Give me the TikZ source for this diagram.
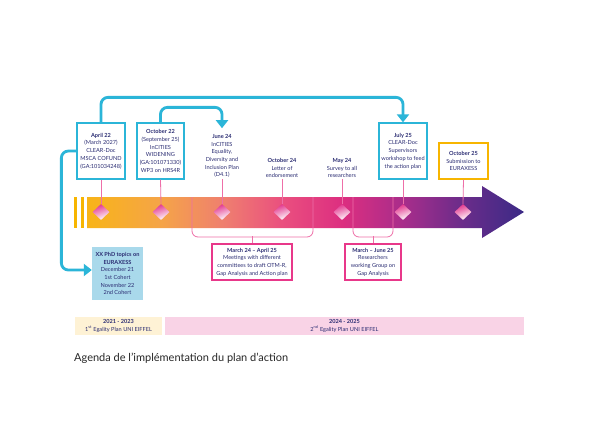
\documentclass[tikz,border=0pt]{standalone}
\usepackage{fontspec}
\setmainfont{Lato}
\usetikzlibrary{arrows.meta,shapes.geometric,calc}
\definecolor{navy}{HTML}{2A2C72}
\definecolor{cyanc}{HTML}{2BB5D8}
\definecolor{pinkb}{HTML}{E8388A}
\definecolor{pinkl}{HTML}{EE6FA8}
\definecolor{yellowc}{HTML}{F7B500}
\definecolor{lblue}{HTML}{A9D9EB}
\definecolor{barY}{HTML}{FEF2D5}
\definecolor{barP}{HTML}{F9D3E6}
\definecolor{diapink}{HTML}{E2338C}
\definecolor{tlA}{HTML}{F8B418}
\definecolor{tlB}{HTML}{F5A448}
\definecolor{tlC}{HTML}{EF7F6F}
\definecolor{tlD}{HTML}{EA4F7F}
\definecolor{tlE}{HTML}{DC2E80}
\definecolor{tlF}{HTML}{A82D8B}
\definecolor{tlG}{HTML}{6A2C8A}
\definecolor{tlH}{HTML}{3B2A86}
\pgfdeclarehorizontalshading{timeline}{100bp}{color(0bp)=(tlA); color(25bp)=(tlA); color(33.5bp)=(tlB); color(40.6bp)=(tlC); color(47.4bp)=(tlD); color(54.3bp)=(tlE); color(61.2bp)=(tlF); color(68bp)=(tlG); color(75bp)=(tlH); color(100bp)=(tlH)}
\begin{document}
\begin{tikzpicture}[x=1pt,y=-1pt,
  font=\fontsize{5.6}{7.7}\selectfont,
  cbox/.style={draw=cyanc, line width=1.3pt, fill=white, text=navy, align=center, inner sep=0.5pt},
  pbox/.style={draw=pinkb, line width=1.2pt, fill=white, text=navy, align=center, inner sep=0.5pt},
  plain/.style={text=navy, align=center, inner sep=1pt},
  pinkline/.style={draw=pinkl, line width=0.8pt},
  cyanline/.style={draw=cyanc, line width=2.8pt, rounded corners=7pt, -{Triangle[width=12pt,length=8pt]}},
  diam/.style={shape=diamond, minimum width=17pt, minimum height=16pt, inner sep=0pt, top color=diapink, bottom color=white, shading angle=20},
  bar/.style={text=navy, align=center, inner sep=0pt, font=\fontsize{5.6}{7.4}\selectfont},
]
\useasboundingbox (0,0) rectangle (599,424);
\fill[white] (0,0) rectangle (599,424);

% timeline band
\fill[yellowc] (74,197) rectangle (77,228);
\fill[yellowc] (81,197) rectangle (84,228);
\shade[shading=timeline] (87,197) -- (482,197) -- (482,186) -- (524,212) -- (482,238) -- (482,228) -- (87,228) -- cycle;

% brackets
\draw[pinkline, rounded corners=6pt] (192,197) -- (192,237) -- (313,237) -- (313,197);
\draw[pinkline, rounded corners=6pt] (353,197) -- (353,237) -- (393,237) -- (393,197);

% diamonds
\node[diam] (d1) at (101,212) {};
\node[diam] (d2) at (161,212) {};
\node[diam] (d3) at (222,212) {};
\node[diam] (d4) at (282,212) {};
\node[diam] (d5) at (342,212) {};
\node[diam] (d6) at (403,212) {};
\node[diam] (d7) at (463,212) {};

% top boxes
\node[cbox, minimum width=48pt, minimum height=56pt] (ap) at (101,151)
  {{\bfseries April 22}\\(March 2027)\\CLEAR-Doc\\MSCA COFUND\\(GA:101034248)};
\node[cbox, minimum width=47pt, minimum height=56pt] (oc) at (160.5,151)
  {{\bfseries October 22}\\(September 25)\\InCITIES\\WIDENING\\(GA:101071330)\\WP3 on HRS4R};
\node[plain, anchor=south] (t3) at (222,179)
  {{\bfseries June 24}\\InCITIES\\Equality,\\Diversity and\\Inclusion Plan\\(D4.1)};
\node[plain, anchor=south] (t4) at (282,179)
  {{\bfseries October 24}\\Letter of\\endorsement};
\node[plain, anchor=south] (t5) at (342,179)
  {{\bfseries May 24}\\Survey to all\\researchers};
\node[cbox, minimum width=48pt, minimum height=56pt] (jl) at (403,151)
  {{\bfseries July 25}\\CLEAR-Doc\\Supervisors\\workshop to feed\\the action plan};
\node[cbox, draw=yellowc, minimum width=49pt, minimum height=36pt] (o25) at (463.5,161)
  {{\bfseries October 25}\\Submission to\\EURAXESS};

% pink stems
\draw[pinkline] (ap.south) -- (d1.north);
\draw[pinkline] (oc.south) -- (d2.north);
\draw[pinkline] (t3.south) -- (d3.north);
\draw[pinkline] (t4.south) -- (d4.north);
\draw[pinkline] (t5.south) -- (d5.north);
\draw[pinkline] (jl.south) -- (d6.north);
\draw[pinkline] (o25.south) -- (d7.north);

% bottom pink boxes
\node[pbox, minimum width=80pt, minimum height=36pt] (m1) at (252,262)
  {{\bfseries March 24 -- April 25}\\Meetings with different\\committees to draft OTM-R,\\Gap Analysis and Action plan};
\node[pbox, minimum width=56pt, minimum height=36pt] (m2) at (373,262)
  {{\bfseries March -- June 25}\\Researchers\\working Group on\\Gap Analysis};
\draw[pinkline] (m1.north) -- ++(0,-7);
\draw[pinkline] (m2.north) -- ++(0,-7);

% PhD box
\node[fill=lblue, text=navy, align=center, inner sep=0pt, minimum width=51pt, minimum height=53pt] (xx) at (117.5,273.5)
  {{\bfseries XX PhD topics on}\\{\bfseries EURAXESS}\\December 21\\1st Cohert\\November 22\\2nd Cohert};

% cyan connectors
\draw[cyanline] (ap.north) -- ++(0,-25) -| (jl.north);
\draw[cyanline] (oc.north) -- ++(0,-15) -| ([yshift=5pt]t3.north);
\draw[cyanline] (ap.west) -- ++(-15,0) |- ([yshift=3.5pt]xx.west);

% bottom bars
\node[bar, fill=barY, minimum width=87pt, minimum height=18pt] (b1) at (118.5,326)
  {{\bfseries 2021 - 2023}\\1\textsuperscript{st} Egality Plan UNI EIFFEL};
\node[bar, fill=barP, minimum width=359pt, minimum height=18pt] (b2) at (344.5,326)
  {{\bfseries 2024 - 2025}\\2\textsuperscript{nd} Egality Plan UNI EIFFEL};

% caption
\node[anchor=west, inner sep=0pt, text=black!85, font=\fontsize{11}{13}\selectfont] (cap) at (74,358)
  {Agenda de l’implémentation du plan d’action};
\end{tikzpicture}
\end{document}
